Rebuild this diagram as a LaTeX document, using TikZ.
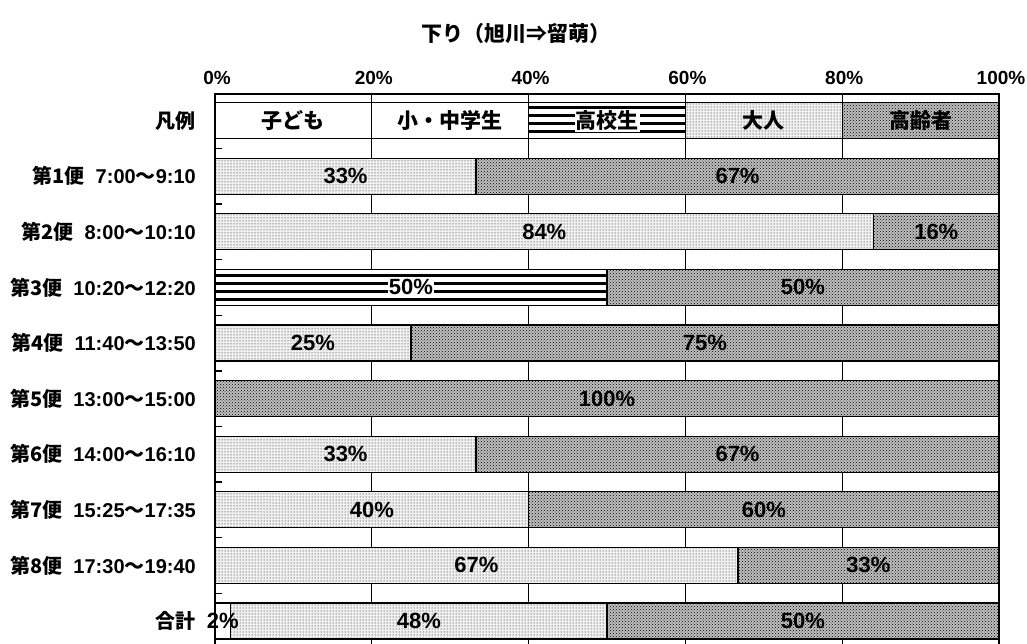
\documentclass[tikz,border=0pt]{standalone}
\usepackage{fontspec}
\setmainfont{Noto Sans CJK JP}
\newfontfamily\latinfont{Liberation Sans}
\usetikzlibrary{patterns,patterns.meta}

% one stacked segment: style, from %, to %, row
\newcommand{\seg}[4]{%
  \path[#1] ({215+7.84*#2},{102.6+55.6*#4}) rectangle ({215+7.84*#3},{138.6+55.6*#4});}
% x of a percentage, y of a row centre
\newcommand{\px}[1]{215+7.84*#1}
\newcommand{\ry}[1]{120.6+55.6*#1}
% trip label: number, departure, arrival
\newcommand{\trip}[3]{第#1便\hspace{0.55em}{\latinfont #2}～{\latinfont #3}}

\tikzset{
  frame/.style={line width=1.4pt},
  gridline/.style={line width=0.9pt},
  kids/.style={draw, line width=1.2pt, fill=white},
  highs/.style={draw, line width=1.2pt, preaction={fill=white},
    pattern={Lines[angle=0,distance=8pt,line width=3pt]}},
  adults/.style={draw, line width=1.2pt, preaction={fill=gray!12},
    pattern=dots, pattern color=black},
  elders/.style={draw, line width=1.2pt, preaction={fill=gray!50},
    pattern=crosshatch dots, pattern color=black},
  lbl/.style={font=\bfseries\fontsize{21}{21}\selectfont, inner sep=1pt},
  rowlbl/.style={font=\bfseries\fontsize{20}{20}\selectfont, inner sep=1pt, anchor=east},
  pct/.style={font=\latinfont\bfseries\fontsize{22}{22}\selectfont, inner sep=1pt},
  onlines/.style={fill=white},
  axlbl/.style={font=\latinfont\bfseries\fontsize{19}{19}\selectfont},
}

\begin{document}
\begin{tikzpicture}[x=1pt,y=-1pt]
  \useasboundingbox (0,0) rectangle (1027,644);

  \node[lbl] (title) at (516,34) {下り（旭川⇒留萌）};

  % axis
  \foreach \p in {0,20,...,100}
    \node[axlbl] (ax\p) at ({\px{\p}+2},78) {\p\%};
  \foreach \p in {20,40,60,80}
    \draw[gridline] ({\px{\p}},94) -- ({\px{\p}},644);
  \draw[frame] (215,644) -- (215,94) -- (999,94) -- (999,644);
  \foreach \i in {0,...,8}
    \draw[frame] (215,{148.4+55.6*\i}) -- (222,{148.4+55.6*\i});

  % legend row
  \seg{kids}{0}{20}{0}
  \seg{kids}{20}{40}{0}
  \seg{highs}{40}{60}{0}
  \seg{adults}{60}{80}{0}
  \seg{elders}{80}{100}{0}
  \node[rowlbl] (r0) at (197,{\ry{0}}) {凡例};
  \node[lbl] (kid) at ({\px{10}},{\ry{0}}) {子ども};
  \node[lbl] (pupil) at ({\px{30}},{\ry{0}}) {小・中学生};
  \node[lbl, onlines] (high) at ({\px{50}},{\ry{0}}) {高校生};
  \node[lbl] (adult) at ({\px{70}},{\ry{0}}) {大人};
  \node[lbl] (elder) at ({\px{90}},{\ry{0}}) {高齢者};

  % trips
  \seg{adults}{0}{33.3}{1}
  \seg{elders}{33.3}{100}{1}
  \node[rowlbl] (r1) at (197,{\ry{1}}) {\trip{1}{7:00}{9:10}};
  \node[pct] (p1a) at ({\px{16.65}},{\ry{1}}) {33\%};
  \node[pct] (p1b) at ({\px{66.65}},{\ry{1}}) {67\%};

  \seg{adults}{0}{84}{2}
  \seg{elders}{84}{100}{2}
  \node[rowlbl] (r2) at (197,{\ry{2}}) {\trip{2}{8:00}{10:10}};
  \node[pct] (p2a) at ({\px{42}},{\ry{2}}) {84\%};
  \node[pct] (p2b) at ({\px{92}},{\ry{2}}) {16\%};

  \seg{highs}{0}{50}{3}
  \seg{elders}{50}{100}{3}
  \node[rowlbl] (r3) at (197,{\ry{3}}) {\trip{3}{10:20}{12:20}};
  \node[pct, onlines] (p3a) at ({\px{25}},{\ry{3}}) {50\%};
  \node[pct] (p3b) at ({\px{75}},{\ry{3}}) {50\%};

  \seg{adults}{0}{25}{4}
  \seg{elders}{25}{100}{4}
  \node[rowlbl] (r4) at (197,{\ry{4}}) {\trip{4}{11:40}{13:50}};
  \node[pct] (p4a) at ({\px{12.5}},{\ry{4}}) {25\%};
  \node[pct] (p4b) at ({\px{62.5}},{\ry{4}}) {75\%};

  \seg{elders}{0}{100}{5}
  \node[rowlbl] (r5) at (197,{\ry{5}}) {\trip{5}{13:00}{15:00}};
  \node[pct] (p5a) at ({\px{50}},{\ry{5}}) {100\%};

  \seg{adults}{0}{33.3}{6}
  \seg{elders}{33.3}{100}{6}
  \node[rowlbl] (r6) at (197,{\ry{6}}) {\trip{6}{14:00}{16:10}};
  \node[pct] (p6a) at ({\px{16.65}},{\ry{6}}) {33\%};
  \node[pct] (p6b) at ({\px{66.65}},{\ry{6}}) {67\%};

  \seg{adults}{0}{40}{7}
  \seg{elders}{40}{100}{7}
  \node[rowlbl] (r7) at (197,{\ry{7}}) {\trip{7}{15:25}{17:35}};
  \node[pct] (p7a) at ({\px{20}},{\ry{7}}) {40\%};
  \node[pct] (p7b) at ({\px{70}},{\ry{7}}) {60\%};

  \seg{adults}{0}{66.7}{8}
  \seg{elders}{66.7}{100}{8}
  \node[rowlbl] (r8) at (197,{\ry{8}}) {\trip{8}{17:30}{19:40}};
  \node[pct] (p8a) at ({\px{33.35}},{\ry{8}}) {67\%};
  \node[pct] (p8b) at ({\px{83.35}},{\ry{8}}) {33\%};

  % total
  \seg{kids}{0}{2}{9}
  \seg{adults}{2}{50}{9}
  \seg{elders}{50}{100}{9}
  \node[rowlbl] (r9) at (197,{\ry{9}}) {合計};
  \node[pct] (p9a) at ({\px{1}},{\ry{9}}) {2\%};
  \node[pct] (p9b) at ({\px{26}},{\ry{9}}) {48\%};
  \node[pct] (p9c) at ({\px{75}},{\ry{9}}) {50\%};
\end{tikzpicture}
\end{document}
